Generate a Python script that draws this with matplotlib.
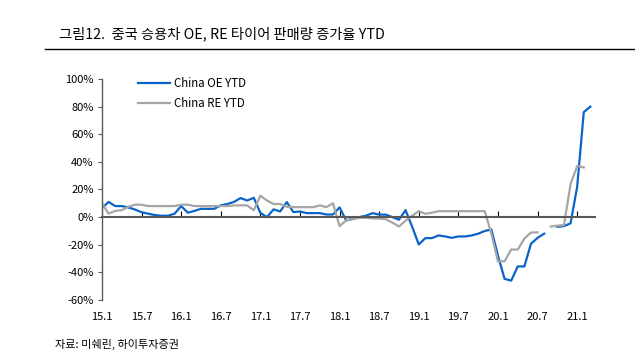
import numpy as np
import matplotlib
matplotlib.use("Agg")
import matplotlib.pyplot as plt
from matplotlib.lines import Line2D

plt.rcParams["font.family"] = ["Noto Sans CJK KR", "DejaVu Sans"]

# Monthly YTD growth (%), Jan 2015 .. Mar 2021
nan = np.nan
oe_ytd = [
    6.5, 11, 8, 8, 7, 5.5, 3.5, 2.5, 1.5, 1, 1, 2.5,
    8, 3.2, 4.5, 6, 6, 6, 8.5, 9.5, 11, 13.8, 12, 14,
    3, 0, 5.6, 4.1, 10.9, 3.6, 4.1, 2.9, 2.9, 2.9, 1.9, 1.9,
    7, -2.4, -1.2, 0, 1, 2.9, 1.8, 1.8, 0, -1.9, 5, -7,
    -19.8, -15.2, -15.2, -13.3, -14, -15, -14, -14, -13.3, -12, -10, -9,
    -28, -44.7, -46, -35.7, -35.7, -19.3, -15, -12, nan, -7, -6.5, -4.5,
    22, 76, 80,
]
re_ytd = [
    10, 2.5, 4.5, 5, 7.5, 9, 9, 8, 8, 8, 8, 8,
    9, 9, 8, 8, 8, 8, 8, 8, 8.5, 8.5, 8.5, 5,
    15.5, 12, 9.5, 9.5, 7.5, 7.2, 7.2, 7.2, 7.2, 8.5, 7.2, 10,
    -6.5, -2.4, -1.5, -0.5, -0.5, -1, -1, -1.5, -4, -6.8, -2.5, 1,
    4.3, 2.4, 3.2, 4.3, 4.3, 4.3, 4.3, 4.3, 4.3, 4.3, 4.3, -12,
    -32, -32, -23.5, -23.5, -15.5, -11.2, -11, nan, -6.8, -6.2, -5.8, 24,
    37, 36, nan,
]
tick_labels = ["15.1", "15.7", "16.1", "16.7", "17.1", "17.7", "18.1",
               "18.7", "19.1", "19.7", "20.1", "20.7", "21.1"]
y_ticks = [-60, -40, -20, 0, 20, 40, 60, 80, 100]

months = np.arange(len(oe_ytd))
tick_pos = np.arange(len(tick_labels)) * 6

fig = plt.figure(figsize=(6.35, 3.62), dpi=100)
ax = fig.add_axes([0.1606, 0.1713, 0.7764, 0.6105])

axis_color = "#595959"

ax.plot(months, oe_ytd, color="#0A64C8", linewidth=1.6, label="China OE YTD")
ax.plot(months, re_ytd, color="#A6A6A6", linewidth=1.6, label="China RE YTD")

ax.set_xlim(0, 74.7)
ax.set_ylim(-60, 100)
ax.set_yticks(y_ticks)
ax.set_yticklabels([f"{v}%" for v in y_ticks])

# Zero line acts as the x axis, labels sit below the plot
for side in ["top", "right"]:
    ax.spines[side].set_visible(False)
ax.spines["bottom"].set_position(("data", 0))
ax.spines["bottom"].set_color(axis_color)
ax.spines["bottom"].set_linewidth(1.5)
ax.spines["left"].set_color(axis_color)
ax.spines["left"].set_linewidth(1.0)
ax.set_xticks(tick_pos)
ax.tick_params(axis="x", direction="in", length=4, color="black",
               labelbottom=False)
ax.tick_params(axis="y", direction="out", length=3, color=axis_color,
               labelsize=8, pad=3)

secax = ax.secondary_xaxis(0.0)
secax.set_xticks(tick_pos)
secax.set_xticklabels(tick_labels)
secax.tick_params(length=0, labelsize=8, pad=9)
secax.spines["bottom"].set_visible(False)

ax.legend(loc="upper left", bbox_to_anchor=(0.073, 1.01), frameon=False,
          fontsize=8.3, handlelength=2.8, handletextpad=0.3, labelspacing=0.6,
          borderpad=0, borderaxespad=0)

fig.text(0.093, 1 - 34 / 362, "그림12.  중국 승용차 OE, RE 타이어 판매량 증가율 YTD",
         fontsize=10.3, va="center", ha="left")
fig.add_artist(Line2D([45 / 635, 1.0], [1 - 49 / 362, 1 - 49 / 362],
                      color="black", linewidth=1.0))
fig.text(0.086, 1 - 344 / 362, "자료: 미쉐린, 하이투자증권", fontsize=8,
         va="center", ha="left")

fig.savefig("out.png", dpi=100)
